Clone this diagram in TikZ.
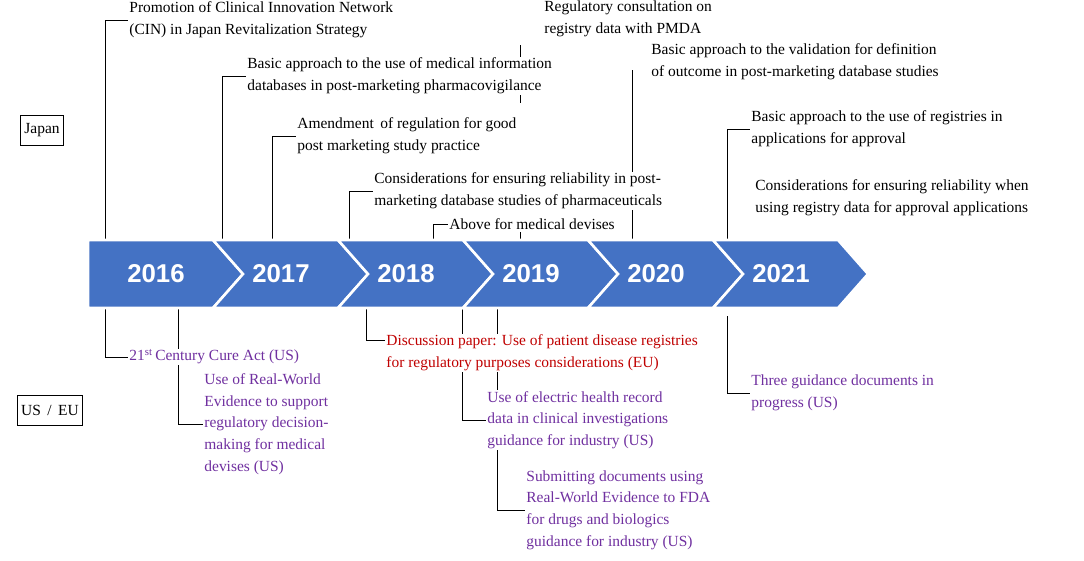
\documentclass[tikz,border=0pt]{standalone}
\usepackage{fontspec}
\setmainfont{Liberation Serif}
\setsansfont{Liberation Sans}
\usetikzlibrary{calc,backgrounds}
\definecolor{chev}{RGB}{68,114,196}
\definecolor{usc}{RGB}{112,48,160}
\definecolor{euc}{RGB}{192,0,0}
\begin{document}
\begin{tikzpicture}[x=0.03cm,y=-0.03cm,
     note/.style = {anchor=west, align=left, inner sep=1pt, fill=white, font=\fontsize{13.2}{18.5}\selectfont},
     us/.style = {note, text=usc},
     eu/.style = {note, text=euc},
     region/.style = {draw, thick, rectangle, minimum height=0.9cm, font=\fontsize{13.2}{16}\selectfont},
     year/.style = {text=white, font=\sffamily\bfseries\fontsize{22}{22}\selectfont},
     lead/.style = {draw, thick}
    ]
    \useasboundingbox (0,0) rectangle (1084,561);

    % chevrons
    \foreach \i/\yr in {0/2016,1/2017,2/2018,3/2019,4/2020,5/2021} {
      \pgfmathsetmacro{\xl}{88+125*\i}
      \ifnum\i=0
        \filldraw[chev, draw=white, line width=2.2pt] (\xl,240) -- ++(125,0) -- ++(30,34) -- ++(-30,34) -- ++(-125,0) -- cycle;
      \else
        \filldraw[chev, draw=white, line width=2.2pt] (\xl,240) -- ++(125,0) -- ++(30,34) -- ++(-30,34) -- ++(-125,0) -- ++(30,-34) -- cycle;
      \fi
      \node[year] (y\yr) at (\xl+68,274) {\yr};
    }

    \node[region] (japan) at (42,130) {Japan};
    \node[region] (useu) at (50,410) {US\, /\, EU};

    % Japan
    \node[note] (cin) at (128,20) {Promotion of Clinical Innovation Network\\(CIN) in Japan Revitalization Strategy};
    \node[note] (mid) at (246,76) {Basic approach to the use of medical information\\databases in post-marketing pharmacovigilance};
    \node[note] (gpsp) at (296,136) {Amendment\, of regulation for good\\post marketing study practice};
    \node[note] (rel) at (373,191) {Considerations for ensuring reliability in post-\\marketing database studies of pharmaceuticals};
    \node[note] (dev) at (448,224) {Above for medical devises};
    \node[note] (pmda) at (543,19) {Regulatory consultation on\\registry data with PMDA};
    \node[note] (valid) at (650,62) {Basic approach to the validation for definition\\of outcome in post-marketing database studies};
    \node[note] (reg) at (750,129) {Basic approach to the use of registries in\\applications for approval};
    \node[note] (regrel) at (754,198) {Considerations for ensuring reliability when\\using registry data for approval applications};

    % US / EU
    \node[us] (cure) at (128,357) {21\textsuperscript{st}\,Century Cure Act (US)};
    \node[us] (rwe) at (203,424) {Use of Real-World\\Evidence to support\\regulatory decision-\\making for medical\\devises (US)};
    \node[eu] (disc) at (385,353) {Discussion paper: Use of patient disease registries\\for regulatory purposes considerations (EU)};
    \node[us] (ehr) at (486,420) {Use of electric health record\\data in clinical investigations\\guidance for industry (US)};
    \node[us] (subm) at (525,510) {Submitting documents using\\Real-World Evidence to FDA\\for drugs and biologics\\guidance for industry (US)};
    \node[us] (three) at (750,393) {Three guidance documents in\\progress (US)};

    \begin{pgfonlayer}{background}
    \draw[lead] (105,240) |- (cin.west);
    \draw[lead] (222,240) |- (mid.west);
    \draw[lead] (272,240) |- (gpsp.west);
    \draw[lead] (349,240) |- (rel.west);
    \draw[lead] (433,240) |- (dev.west);
    \draw[lead] (520,45) -- (520,103);
    \draw[lead] (520,232) -- (520,240);
    \draw[lead] (632,240) -- (632,70);
    \draw[lead] (727,240) |- (reg.west);
    \draw[lead] (105,308) |- (cure.west);
    \draw[lead] (178,308) |- (rwe.west);
    \draw[lead] (366,308) |- ([yshift=11]disc.west);
    \draw[lead] (462,308) |- (ehr.west);
    \draw[lead] (497,308) |- (subm.west);
    \draw[lead] (727,316) |- (three.west);
    \end{pgfonlayer}
\end{tikzpicture}
\end{document}
